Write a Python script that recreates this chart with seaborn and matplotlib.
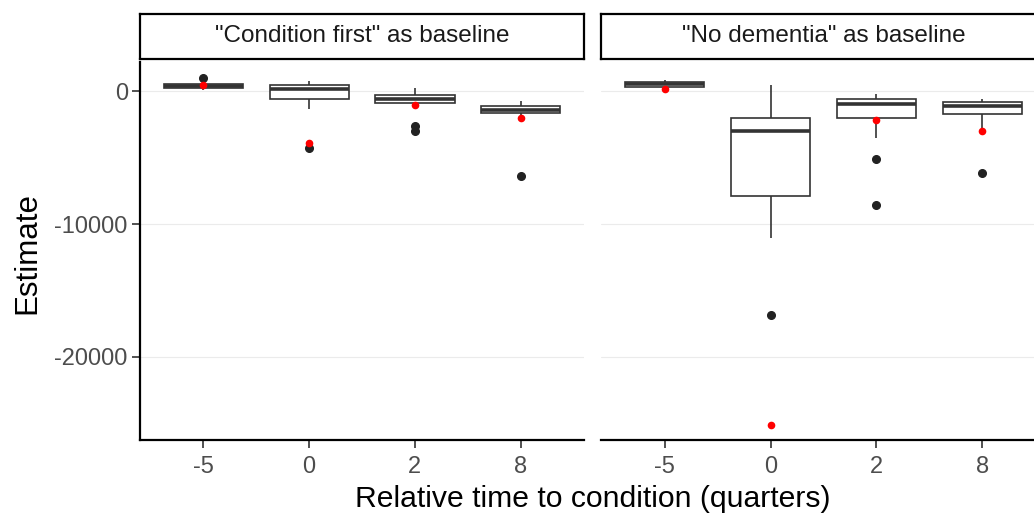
import matplotlib
matplotlib.use("Agg")
import matplotlib.pyplot as plt
import seaborn as sns
import pandas as pd

# ---- data ----
times = ["-5", "0", "2", "8"]
panels = ['"Condition first" as baseline', '"No dementia" as baseline']

# simulated estimates per relative time (Condition first baseline)
cf_m5 = [75, 150, 200, 250, 300, 350, 400, 450, 500, 525, 540, 560, 1030]
cf_0 = [-4250, -1350, -900, -550, -300, 0, 200, 300, 400, 500, 600, 700, 750]
cf_2 = [-3000, -2600, -1000, -880, -800, -700, -600, -500, -400, -300, -100, 100, 280]
cf_8 = [-6370, -1800, -1700, -1650, -1550, -1450, -1380, -1300, -1200, -1080, -950, -800, -700]
# simulated estimates per relative time (No dementia baseline)
nd_m5 = [280, 300, 310, 325, 400, 480, 525, 580, 650, 700, 760, 820, 880]
nd_0 = [-16870, -11030, -9500, -7920, -6000, -4000, -3000, -2700, -2300, -2050, -1200, -300, 500]
nd_2 = [-8600, -5110, -3510, -1980, -1500, -1200, -925, -800, -700, -550, -400, -300, -200]
nd_8 = [-6190, -2900, -2200, -1680, -1500, -1300, -1130, -1000, -900, -775, -700, -620, -550]
# red reference points
cf_red = [500, -3890, -1050, -1980]
nd_red = [200, -25100, -2180, -2960]

groups = {
    panels[0]: [cf_m5, cf_0, cf_2, cf_8],
    panels[1]: [nd_m5, nd_0, nd_2, nd_8],
}
reds = {panels[0]: cf_red, panels[1]: nd_red}

rows = []
for p, lists in groups.items():
    for t, vals in zip(times, lists):
        for v in vals:
            rows.append({"panel": p, "time": t, "Estimate": v})
df = pd.DataFrame(rows)
red_rows = []
for p, vals in reds.items():
    for t, v in zip(times, vals):
        red_rows.append({"panel": p, "time": t, "Estimate": v})
df_red = pd.DataFrame(red_rows)

# ---- style ----
sns.set_style("white")
plt.rcParams["font.family"] = ["Liberation Sans", "DejaVu Sans"]
plt.rcParams["axes.unicode_minus"] = False

W, H = 1034, 513
fig = plt.figure(figsize=(W / 100, H / 100), dpi=100)


def rect(l, t, r, b):
    return [l / W, 1 - b / H, (r - l) / W, (b - t) / H]


ax_rects = [(140, 62, 584, 440), (601, 62, 1046, 440)]
strip_rects = [(140, 14, 584, 59), (601, 14, 1046, 59)]

for i, p in enumerate(panels):
    ax = fig.add_axes(rect(*ax_rects[i]))
    sub = df[df["panel"] == p]
    for yv in [0, -10000, -20000]:
        ax.axhline(yv, color="#EBEBEB", lw=0.8, zorder=0)
    sns.boxplot(data=sub, x="time", y="Estimate", order=times, ax=ax,
                color="white", linecolor="#333333", linewidth=1.2, width=0.75,
                showcaps=False,
                medianprops={"linewidth": 2.6, "color": "#333333"},
                flierprops={"marker": "o", "markersize": 5.5,
                            "markerfacecolor": "#222222",
                            "markeredgecolor": "#222222"})
    sns.stripplot(data=df_red[df_red["panel"] == p], x="time", y="Estimate",
                  order=times, ax=ax, jitter=False, color="red", size=5.5,
                  linewidth=0, zorder=5)
    ax.set_xlim(-0.6, 3.6)
    ax.set_ylim(-26250, 2200)
    ax.set_xlabel("")
    ax.set_ylabel("")
    ax.set_facecolor("white")
    for s in ["top", "right"]:
        ax.spines[s].set_visible(False)
    ax.spines["bottom"].set_color("black")
    ax.spines["bottom"].set_linewidth(1.6)
    ax.tick_params(axis="x", length=5.8, width=1.2, color="#333333",
                   labelsize=17, labelcolor="#4D4D4D", pad=5.5, bottom=True)
    if i == 0:
        ax.spines["left"].set_color("black")
        ax.spines["left"].set_linewidth(1.6)
        ax.set_yticks([0, -10000, -20000])
        ax.set_yticklabels(["0", "-10000", "-20000"])
        ax.tick_params(axis="y", length=5.8, width=1.2, color="#333333",
                       labelsize=17, labelcolor="#4D4D4D", pad=3, left=True)
    else:
        ax.spines["left"].set_visible(False)
        ax.set_yticks([0, -10000, -20000])
        ax.tick_params(axis="y", left=False, labelleft=False)

    sax = fig.add_axes(rect(*strip_rects[i]))
    sax.set_xticks([])
    sax.set_yticks([])
    sax.set_facecolor("white")
    for s in sax.spines.values():
        s.set_visible(True)
        s.set_color("black")
        s.set_linewidth(1.6)
    sax.text(0.5, 0.52, p, ha="center", va="center", fontsize=17.5,
             color="#1A1A1A", transform=sax.transAxes)

fig.text(27 / W, 1 - 253 / H, "Estimate", rotation=90, ha="center",
         va="center", fontsize=22.5, color="black")
fig.text(593 / W, 1 - 507 / H, "Relative time to condition (quarters)",
         ha="center", va="baseline", fontsize=21.7, color="black")

fig.savefig("out.png", dpi=100)
